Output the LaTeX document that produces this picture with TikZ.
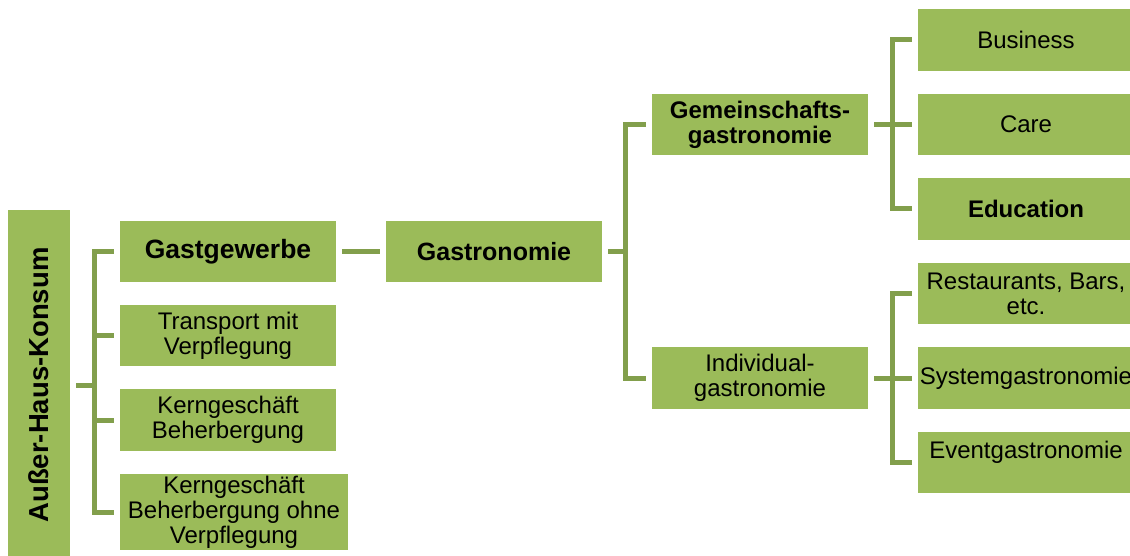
\documentclass[tikz,border=0pt]{standalone}
\usepackage{fontspec}
\setmainfont{Liberation Sans}
\definecolor{boxgreen}{RGB}{155,187,89}
\definecolor{linegreen}{RGB}{130,159,76}

\tikzstyle{box}=[fill=boxgreen, minimum width=216pt, minimum height=61pt, inner sep=0pt, align=center, font=\fontsize{24}{25}\selectfont]
\tikzstyle{head}=[box, font=\bfseries\fontsize{24}{25}\selectfont]
\tikzstyle{conn}=[linegreen, line width=5pt]

\begin{document}
\begin{tikzpicture}[x=1pt, y=-1pt]
      \useasboundingbox (0,0) rectangle (1130,556);
      \clip (0,0) rectangle (1130,556);

      \node[box, rotate=90, minimum width=350pt, minimum height=62pt, font=\bfseries\fontsize{27.5}{29}\selectfont] (akons) at (39, 385) {Außer-Haus-Konsum};

      \node[head, font=\bfseries\fontsize{26.5}{28}\selectfont] (gastgew) at (228, 251.5) {Gastgewerbe};
      \node[box] (transp) at (228, 335.5) {Transport mit\\Verpflegung};
      \node[box, minimum height=62pt] (kern) at (228, 420) {Kerngeschäft\\Beherbergung};
      \node[box, minimum width=228pt, minimum height=76pt] (kernohne) at (234, 512) {Kerngeschäft\\Beherbergung ohne\\Verpflegung};

      \node[head, font=\bfseries\fontsize{25}{26}\selectfont] (gastro) at (494, 251.5) {Gastronomie};

      \node[head] (gemein) at (760, 124.5) {Gemeinschafts-\\gastronomie};
      \node[box, minimum height=62pt] (indiv) at (760, 378) {Individual-\\gastronomie};

      \node[box, minimum height=62pt] (business) at (1026, 40) {Business};
      \node[box] (care) at (1026, 124.5) {Care};
      \node[head, minimum height=62pt] (educ) at (1026, 209) {Education};
      \node[box] (rest) at (1026, 293.5) {Restaurants, Bars,\\etc.};
      \node[box, minimum height=62pt] (system) at (1026, 378) {Systemgastronomie};
      \node[box] (event) at (1026, 462.5) {Eventgastronomie\\\mbox{}};

      % left bracket
      \draw[conn] ([xshift=6pt]akons.south) -- ++(19,0);
      \draw[conn] ([xshift=-6pt]gastgew.west) -- ++(-19,0) |- ([xshift=-6pt]kernohne.west);
      \draw[conn] ([xshift=-6pt]transp.west) -- ++(-19,0);
      \draw[conn] ([xshift=-6pt]kern.west) -- ++(-19,0);

      \draw[conn] ([xshift=6pt]gastgew.east) -- ([xshift=-6pt]gastro.west);

      % gastronomie split
      \draw[conn] ([xshift=6pt]gastro.east) -- ++(18,0);
      \draw[conn] ([xshift=-6pt]gemein.west) -- ++(-20,0) |- ([xshift=-6pt]indiv.west);

      % right brackets
      \draw[conn] ([xshift=6pt]gemein.east) -- ++(19,0);
      \draw[conn] ([xshift=-6pt]business.west) -- ++(-19,0) |- ([xshift=-6pt]educ.west);
      \draw[conn] ([xshift=-6pt]care.west) -- ++(-19,0);
      \draw[conn] ([xshift=6pt]indiv.east) -- ++(19,0);
      \draw[conn] ([xshift=-6pt]rest.west) -- ++(-19,0) |- ([xshift=-6pt]event.west);
      \draw[conn] ([xshift=-6pt]system.west) -- ++(-19,0);
\end{tikzpicture}
\end{document}
